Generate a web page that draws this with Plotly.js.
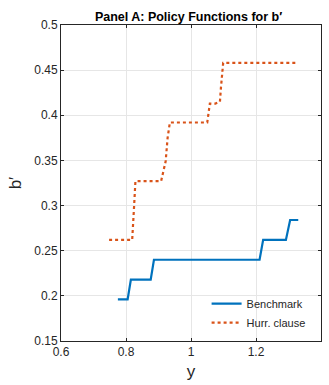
<!DOCTYPE html>
<html><head><meta charset="utf-8">
<script src="https://cdn.plot.ly/plotly-3.0.1.min.js"></script>
<style>html,body{margin:0;padding:0;background:#fff;}#chart{width:329px;height:385px;}</style>
</head><body><div id="chart"></div>
<script>
const benchX = [0.775, 0.805, 0.815, 0.876, 0.886, 1.211, 1.222, 1.292, 1.305, 1.330];
const benchY = [0.196, 0.196, 0.218, 0.218, 0.240, 0.240, 0.262, 0.262, 0.284, 0.284];
const hurrX = [0.748, 0.819, 0.825, 0.829, 0.908, 0.915, 0.922, 0.928, 0.935, 1.050, 1.058, 1.075, 1.089, 1.092, 1.099, 1.330];
const hurrY = [0.262, 0.262, 0.300, 0.327, 0.327, 0.340, 0.349, 0.375, 0.392, 0.392, 0.413, 0.413, 0.415, 0.430, 0.458, 0.458];
const xTicks = [0.6, 0.8, 1, 1.2, 1.4];
const yTicks = [0.15, 0.2, 0.25, 0.3, 0.35, 0.4, 0.45, 0.5];

const font = 'Liberation Sans, Arial, sans-serif';
const traces = [
  {x: benchX, y: benchY, mode: 'lines', name: 'Benchmark',
   line: {color: '#0072BD', width: 2.2}},
  {x: hurrX, y: hurrY, mode: 'lines', name: 'Hurr. clause',
   line: {color: '#D95319', width: 2.2, dash: 'dot'}}
];
const axBase = {
  showline: true, linecolor: '#262626', linewidth: 1, mirror: 'ticks',
  ticks: 'inside', ticklen: 3, tickcolor: '#262626',
  showgrid: true, gridcolor: '#e6e6e6', gridwidth: 1, zeroline: false,
  tickfont: {family: font, size: 12, color: '#262626'}
};
const layout = {
  width: 329, height: 385,
  margin: {l: 61, r: 8, t: 25, b: 44},
  paper_bgcolor: '#fff', plot_bgcolor: '#fff',
  title: {text: '<b>Panel A: Policy Functions for b′</b>', x: 0.573, xanchor: 'center', y: 0.958, yanchor: 'middle',
          font: {family: font, size: 12.5, color: '#000'}},
  xaxis: Object.assign({}, axBase, {range: [0.6, 1.4], tickvals: xTicks, ticktext: ['0.6','0.8','1','1.2','1.4'],
    title: {text: 'y', font: {family: font, size: 17, color: '#262626'}, standoff: 6}}),
  yaxis: Object.assign({}, axBase, {range: [0.15, 0.5], tickvals: yTicks, ticktext: ['0.15','0.2','0.25','0.3','0.35','0.4','0.45','0.5'],
    title: {text: 'b′', font: {family: font, size: 17, color: '#262626'}, standoff: 8}}),
  showlegend: true,
  legend: {x: 0.96, xanchor: 'right', y: 0.012, yanchor: 'bottom', bgcolor: 'rgba(255,255,255,0)',
    borderwidth: 0, font: {family: font, size: 11, color: '#262626'}, tracegroupgap: 0, itemwidth: 30}
};
Plotly.newPlot('chart', traces, layout, {displayModeBar: false, staticPlot: true});
</script></body></html>
